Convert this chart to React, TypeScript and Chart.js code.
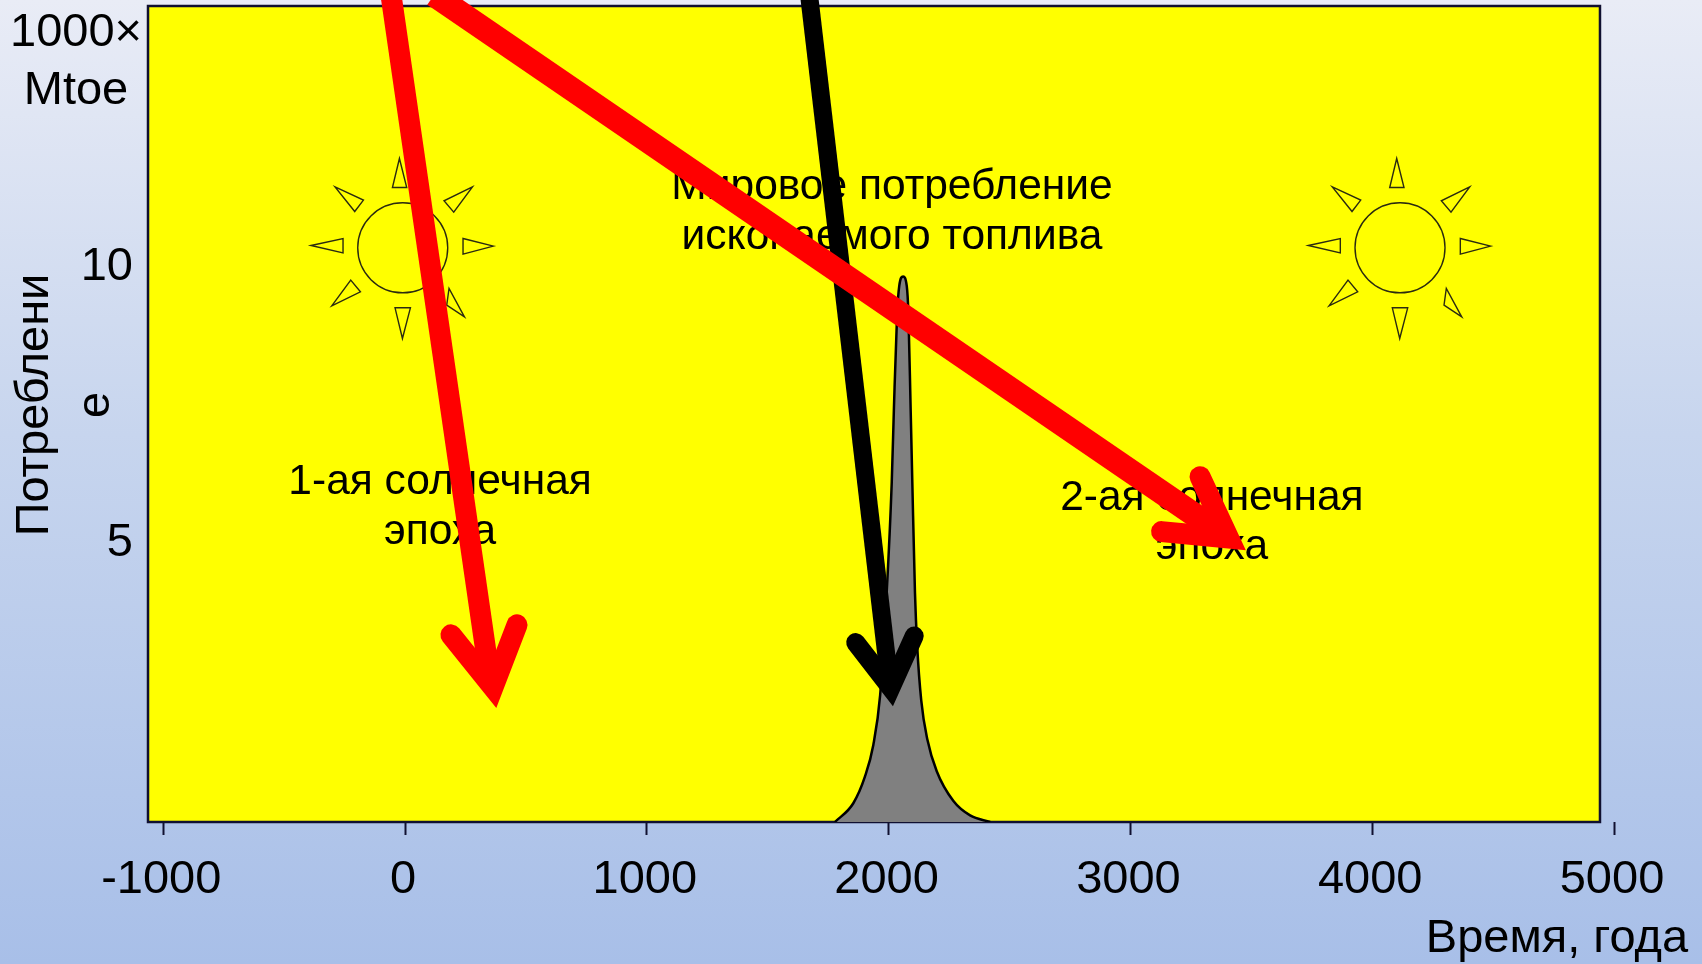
import React, { useEffect, useRef } from "react";
import { Chart, registerables } from "chart.js";

Chart.register(...registerables);

const FONT = "'Liberation Sans', Arial, sans-serif";

const xTicks = [-1000, 0, 1000, 2000, 3000, 4000, 5000];
const yTicks = [5, 10];

const curveX = [1778, 1854, 1902, 1937, 1965, 1992, 2013, 2022, 2035, 2044, 2060, 2075, 2082, 2091, 2098, 2109, 2118, 2135, 2160, 2199, 2268, 2337, 2420];
const curveY = [0, 0.34, 0.82, 1.4, 2.3, 4.15, 6.16, 7.5, 9.18, 9.71, 9.88, 9.71, 9.18, 7.5, 6.16, 4.15, 3.2, 2.2, 1.5, 0.92, 0.38, 0.12, 0];

const redShaftAX = [-58, 351.5];
const redShaftAY = [14.98, 2.57];
const redHeadAX = [190, 364, 463];
const redHeadAY = [3.39, 2.44, 3.57];

const redShaftBX = [120, 3350];
const redShaftBY = [14.98, 5.31];
const redHeadBX = [3288, 3406, 3129];
const redHeadBY = [6.255, 5.145, 5.26];

const blackShaftX = [1671, 1998];
const blackShaftY = [14.98, 2.75];
const blackHeadX = [1864, 2009, 2106];
const blackHeadY = [3.25, 2.43, 3.37];

const sunCentres = [
  { x: -9.5, y: 10.4 },
  { x: 4115, y: 10.4 },
];

const plotNotes = [
  { text: "Мировое потребление", x: 2014, y: 11.5 },
  { text: "ископаемого топлива", x: 2014, y: 10.59 },
  { text: "1-ая солнечная", x: 145, y: 6.16 },
  { text: "эпоха", x: 145, y: 5.25 },
  { text: "2-ая солнечная", x: 3337, y: 5.86 },
  { text: "эпоха", x: 3337, y: 4.98 },
];

const outerNotes = [
  { text: "1000×", x: 76, y: 33 },
  { text: "Mtoe", x: 76, y: 91 },
  { text: "Время, года", x: 1557, y: 939 },
];

const axisTitleLines = [
  { text: "Потреблени", x: 35 },
  { text: "е", x: 96 },
];

const frameRight = 4942;

const sunRadius = 45;
const sunRays = [
  [[-3.3, -89.3], [-10.3, -60.3], [4, -60.3]],
  [[69.7, -61], [41.3, -47], [51, -35.7]],
  [[90.7, -1.7], [60.3, -9.3], [60.3, 6.3]],
  [[61.7, 69], [46.3, 40.7], [44, 57.3]],
  [[-0.3, 90.7], [-7.7, 60], [7.7, 60]],
  [[-71, 58], [-52, 32.3], [-42.3, 44]],
  [[-91.7, -2.3], [-59.7, -9.3], [-59.7, 5]],
  [[-67.7, -61], [-39.3, -47.7], [-48, -36.3]],
];

const pts = (xs: number[], ys: number[]) => xs.map((x, i) => ({ x, y: ys[i] }));

const backdrop = {
  id: "backdrop",
  beforeDraw(chart: any) {
    const { ctx, width, height } = chart;
    const g = ctx.createLinearGradient(0, 0, 0, height);
    g.addColorStop(0, "#e9ecf6");
    g.addColorStop(0.45, "#c7d5ee");
    g.addColorStop(1, "#a8bfe8");
    ctx.save();
    ctx.fillStyle = g;
    ctx.fillRect(0, 0, width, height);
    ctx.restore();
  },
  beforeDatasetsDraw(chart: any) {
    const { ctx, scales } = chart;
    const sx = scales.x;
    const sy = scales.y;
    ctx.save();
    const l = sx.getPixelForValue(sx.min);
    const r = sx.getPixelForValue(frameRight);
    const t = sy.getPixelForValue(sy.max);
    const b = sy.getPixelForValue(0);
    ctx.fillStyle = "#ffff00";
    ctx.fillRect(l, t, r - l, b - t);
    ctx.strokeStyle = "#101030";
    ctx.lineWidth = 2.5;
    ctx.strokeRect(l, t, r - l, b - t);

    ctx.strokeStyle = "#2a2a10";
    ctx.lineWidth = 1.4;
    for (const c of sunCentres) {
      const cx = sx.getPixelForValue(c.x);
      const cy = sy.getPixelForValue(c.y);
      ctx.beginPath();
      ctx.arc(cx, cy, sunRadius, 0, Math.PI * 2);
      ctx.stroke();
      for (const ray of sunRays) {
        ctx.beginPath();
        ray.forEach(([dx, dy], i) => (i ? ctx.lineTo(cx + dx, cy + dy) : ctx.moveTo(cx + dx, cy + dy)));
        ctx.closePath();
        ctx.stroke();
      }
    }

    ctx.fillStyle = "#000";
    ctx.textAlign = "center";
    ctx.textBaseline = "middle";
    ctx.font = `42.5px ${FONT}`;
    for (const n of plotNotes) {
      ctx.fillText(n.text, sx.getPixelForValue(n.x), sy.getPixelForValue(n.y));
    }
    ctx.restore();
  },
  afterDraw(chart: any) {
    const { ctx } = chart;
    ctx.save();
    ctx.fillStyle = "#000";
    ctx.textBaseline = "middle";
    ctx.textAlign = "center";
    ctx.font = `47px ${FONT}`;
    outerNotes.forEach((n) => ctx.fillText(n.text, n.x, n.y));
    for (const line of axisTitleLines) {
      ctx.save();
      ctx.translate(line.x, 405);
      ctx.rotate(-Math.PI / 2);
      ctx.fillText(line.text, 0, 0);
      ctx.restore();
    }
    ctx.restore();
  },
};

const arrow = (data: any[], color: string, width: number, cap: string) => ({
  data,
  borderColor: color,
  borderWidth: width,
  borderCapStyle: cap,
  borderJoinStyle: "miter",
  pointRadius: 0,
  fill: false,
  clip: false,
  tension: 0,
});

export default function App() {
  const ref = useRef<HTMLCanvasElement | null>(null);

  useEffect(() => {
    document.body.style.margin = "0";
    const chart = new Chart(ref.current as HTMLCanvasElement, {
      type: "line",
      data: {
        datasets: [
          arrow(pts(redHeadBX, redHeadBY), "#ff0000", 21, "round"),
          arrow(pts(redShaftBX, redShaftBY), "#ff0000", 24, "butt"),
          arrow(pts(redHeadAX, redHeadAY), "#ff0000", 21, "round"),
          arrow(pts(redShaftAX, redShaftAY), "#ff0000", 21, "butt"),
          arrow(pts(blackHeadX, blackHeadY), "#000000", 19, "round"),
          arrow(pts(blackShaftX, blackShaftY), "#000000", 18, "butt"),
          {
            data: pts(curveX, curveY),
            borderColor: "#000000",
            borderWidth: 2.5,
            backgroundColor: "#808080",
            fill: "origin",
            pointRadius: 0,
            cubicInterpolationMode: "monotone",
          },
        ] as any,
      },
      options: {
        animation: false,
        responsive: false,
        layout: { padding: { top: 6, right: 88, left: 0, bottom: 0 } },
        plugins: { legend: { display: false }, tooltip: { enabled: false } },
        scales: {
          x: {
            type: "linear",
            min: -1063,
            max: 5000,
            grid: { drawOnChartArea: false, drawTicks: true, tickLength: 13, tickColor: "#101030", tickWidth: 2 },
            border: { display: false },
            ticks: {
              color: "#000",
              font: { family: FONT, size: 47 },
              padding: 17,
              labelOffset: -2,
              maxRotation: 0,
              autoSkip: false,
              callback: (v: any) => String(v),
            },
            afterBuildTicks(axis: any) {
              axis.ticks = xTicks.map((value) => ({ value }));
            },
            afterFit(axis: any) {
              axis.height = 142;
              axis.paddingLeft = 0;
              axis.paddingRight = 0;
            },
          },
          y: {
            type: "linear",
            min: 0,
            max: 14.78,
            grid: { drawOnChartArea: false, drawTicks: false },
            border: { display: false },
            ticks: {
              color: "#000",
              font: { family: FONT, size: 47 },
              padding: 15,
              labelOffset: -3,
              callback: (v: any) => String(v),
            },
            afterBuildTicks(axis: any) {
              axis.ticks = yTicks.map((value) => ({ value }));
            },
            afterFit(axis: any) {
              axis.width = 148;
              axis.paddingTop = 0;
              axis.paddingBottom = 0;
            },
          },
        },
      } as any,
      plugins: [backdrop],
    } as any);
    return () => chart.destroy();
  }, []);

  return <canvas ref={ref} width={1702} height={964} style={{ display: "block" }} />;
}
